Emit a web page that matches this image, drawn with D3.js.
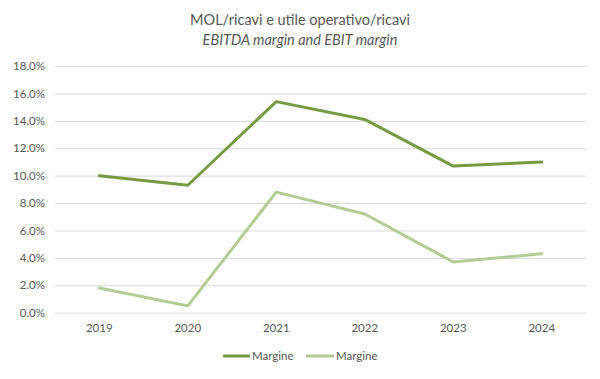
<!DOCTYPE html>
<html><head><meta charset="utf-8">
<script src="https://cdn.jsdelivr.net/npm/d3@7"></script>
<style>body{margin:0;background:#fff;} svg{display:block;font-family:Lato,"Open Sans",sans-serif;}</style>
</head><body><svg id="c" width="600" height="379"></svg>
<script>
const years = ["2019","2020","2021","2022","2023","2024"];
const ebitda = [10.0, 9.3, 15.4, 14.1, 10.7, 11.0];
const ebit = [1.8, 0.5, 8.8, 7.2, 3.7, 4.3];
const yTicks = [0,2,4,6,8,10,12,14,16,18];
const seriesNames = ["Margine","Margine"];
const colors = ["#789a45","#b4cc94"];

const svg = d3.select("#c");
const x = d3.scaleBand().domain(years).range([55, 586]);
const y = d3.scaleLinear().domain([0,18]).range([312.7, 66]);

svg.append("text").attr("x",300).attr("y",25).attr("text-anchor","middle")
  .attr("fill","#595959").attr("font-size",14.5).text("MOL/ricavi e utile operativo/ricavi");
svg.append("text").attr("x",300).attr("y",45).attr("text-anchor","middle")
  .attr("fill","#595959").attr("font-size",14.5).attr("font-style","italic").text("EBITDA margin and EBIT margin");

const ya = svg.append("g").attr("transform","translate(55,0)")
  .call(d3.axisLeft(y).tickValues(yTicks).tickSize(-531).tickFormat(d=>d.toFixed(1)+"%").tickPadding(10));
ya.select(".domain").remove();
ya.selectAll(".tick line").attr("stroke","#d9d9d9");
ya.selectAll(".tick text").attr("fill","#595959").attr("font-size",11.5).attr("font-family","Lato,'Open Sans',sans-serif");

const xa = svg.append("g").attr("transform","translate(0,312.7)")
  .call(d3.axisBottom(x).tickSize(0).tickPadding(11));
xa.select(".domain").remove();
xa.selectAll(".tick text").attr("fill","#595959").attr("font-size",11.5).attr("font-family","Lato,'Open Sans',sans-serif");

const line = d3.line().x((d,i)=>x(years[i])+x.bandwidth()/2).y(d=>y(d));
[ebitda, ebit].forEach((s,k)=>{
  svg.append("path").datum(s).attr("d",line).attr("fill","none")
    .attr("stroke",colors[k]).attr("stroke-width",3).attr("stroke-linejoin","round").attr("stroke-linecap","round");
});

const lg = [{x0:223, x1:250}, {x0:306, x1:334}];
seriesNames.forEach((n,k)=>{
  svg.append("line").attr("x1",lg[k].x0).attr("x2",lg[k].x1).attr("y1",356).attr("y2",356)
    .attr("stroke",colors[k]).attr("stroke-width",3);
  svg.append("text").attr("x",lg[k].x1+2).attr("y",360).attr("fill","#595959").attr("font-size",11.5).text(n);
});
</script></body></html>
